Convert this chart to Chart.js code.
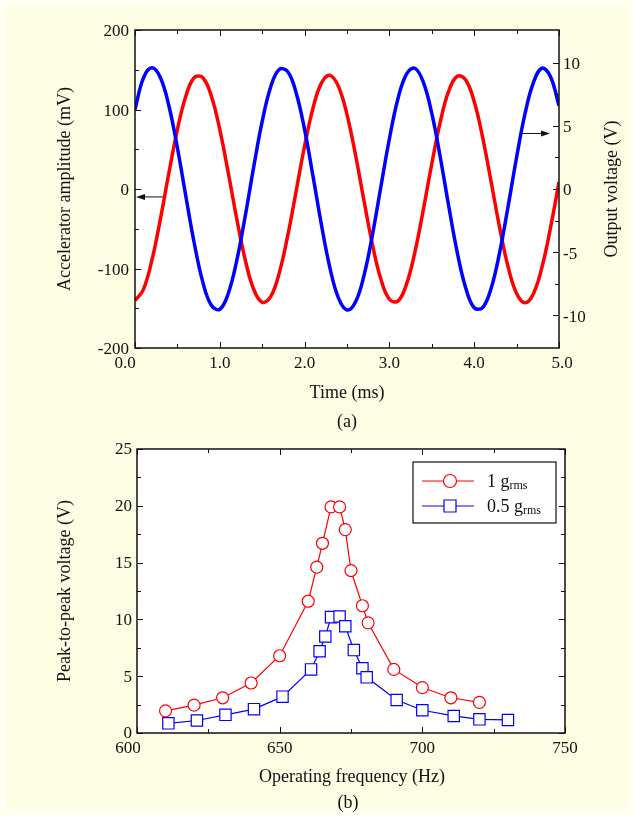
<!DOCTYPE html>
<html>
<head>
<meta charset="utf-8">
<script src="https://cdn.jsdelivr.net/npm/chart.js@4.4.1/dist/chart.umd.min.js"></script>
<style>
    html, body { margin: 0; padding: 0; background: #fffff2; }
    #page { position: relative; width: 633px; height: 816px; overflow: hidden; background: #fffff2; }
    #panel { position: absolute; left: 6px; top: 7px; width: 622px; height: 801px; background: #fdfde3; }
    canvas { position: absolute; left: 0; }
    #waveChart { top: 0; }
    #freqChart { top: 435px; }
</style>
</head>
<body>
<div id="page">
    <div id="panel"></div>
    <canvas id="waveChart" width="633" height="435"></canvas>
    <canvas id="freqChart" width="633" height="381"></canvas>
</div>
<script>
// (a) oscillogram, every 0.1 ms
const timeMs = [
    0.0, 0.1, 0.2, 0.3, 0.4, 0.5, 0.6, 0.7, 0.8, 0.9,
    1.0, 1.1, 1.2, 1.3, 1.4, 1.5, 1.6, 1.7, 1.8, 1.9,
    2.0, 2.1, 2.2, 2.3, 2.4, 2.5, 2.6, 2.7, 2.8, 2.9,
    3.0, 3.1, 3.2, 3.3, 3.4, 3.5, 3.6, 3.7, 3.8, 3.9,
    4.0, 4.1, 4.2, 4.3, 4.4, 4.5, 4.6, 4.7, 4.8, 4.9,
    5.0,
];
const accelMv = [
    -140.5, -126.2, -89.2, -37.5, 20.4, 74.7, 117.0, 140.2, 140.0, 117.0,
    74.7, 20.3, -37.5, -89.2, -126.2, -142.5, -135.4, -106.1, -59.4, -2.9,
    54.1, 102.1, 133.5, 142.9, 128.8, 93.6, 43.1, -14.6, -70.0, -113.6,
    -138.7, -141.1, -120.3, -79.8, -26.1, 31.8, 84.4, 123.3, 141.9, 137.2,
    110.0, 64.7, 8.8, -48.6, -98.0, -131.3, -143.0, -131.3, -98.0, -48.7,
    8.8,
];
const outputV = [
    6.3, 8.81, 9.6, 8.81, 6.58, 3.27, -0.59, -4.34, -7.38, -9.21,
    -9.53, -8.28, -5.67, -2.14, 1.75, 5.35, 8.08, 9.47, 9.31, 7.63,
    4.70, 0.98, -2.89, -6.29, -8.65, -9.59, -8.96, -6.86, -3.63, 0.20,
    3.98, 7.13, 9.09, 9.57, 8.47, 5.99, 2.52, -1.37, -5.02, -7.85,
    -9.41, -9.40, -7.86, -5.02, -1.37, 2.52, 5.99, 8.47, 9.57, 8.9,
    6.6,
];
const timeTicks = [0, 1, 2, 3, 4, 5];
const accelTicks = [-200, -100, 0, 100, 200];
const voltTicks = [-10, -5, 0, 5, 10];

// (b) frequency response
const freqOneG = [610, 620, 630, 640, 650, 660, 663, 665, 668, 671, 673, 675, 679, 681, 690, 700, 710, 720];
const ppOneG = [1.95, 2.45, 3.1, 4.4, 6.8, 11.6, 14.6, 16.7, 19.9, 19.9, 17.9, 14.3, 11.2, 9.7, 5.6, 4.0, 3.1, 2.7];
const freqHalfG = [611, 621, 631, 641, 651, 661, 664, 666, 668, 671, 673, 676, 679, 680.5, 691, 700, 711, 720, 730];
const ppHalfG = [0.85, 1.1, 1.6, 2.1, 3.2, 5.6, 7.2, 8.5, 10.2, 10.25, 9.4, 7.3, 5.7, 4.9, 2.9, 2.0, 1.5, 1.2, 1.15];
const freqTicks = [600, 650, 700, 750];
const ppTicks = [0, 5, 10, 15, 20, 25];

const SERIF = '"Liberation Serif", "Times New Roman", Times, serif';
const INK = "#111";

function minorValues(majors) {
    const out = [];
    for (let i = 0; i < majors.length - 1; i++) out.push((majors[i] + majors[i + 1]) / 2);
    return out;
}

function points(xs, ys) {
    return xs.map((x, i) => ({ x, y: ys[i] }));
}

// inward tick marks along one side of the plot box
function tickMarks(ctx, area, scale, values, side, len) {
    ctx.beginPath();
    for (const v of values) {
        const p = Math.round(scale.getPixelForValue(v)) + 0.5;
        if (side === "left") { ctx.moveTo(area.left, p); ctx.lineTo(area.left + len, p); }
        else if (side === "right") { ctx.moveTo(area.right, p); ctx.lineTo(area.right - len, p); }
        else if (side === "top") { ctx.moveTo(p, area.top); ctx.lineTo(p, area.top + len); }
        else { ctx.moveTo(p, area.bottom); ctx.lineTo(p, area.bottom - len); }
    }
    ctx.stroke();
}

function boxTicks(ctx, area, scale, majors, sides) {
    for (const side of sides) {
        tickMarks(ctx, area, scale, majors, side, 6);
        tickMarks(ctx, area, scale, minorValues(majors), side, 4);
    }
}

function verticalText(ctx, text, x, y) {
    ctx.save();
    ctx.translate(x, y);
    ctx.rotate(-Math.PI / 2);
    ctx.textAlign = "center";
    ctx.textBaseline = "middle";
    ctx.fillText(text, 0, 0);
    ctx.restore();
}

function arrow(ctx, x1, y, x2) {
    const dir = Math.sign(x2 - x1);
    ctx.beginPath();
    ctx.moveTo(x1, y);
    ctx.lineTo(x2 - dir * 7, y);
    ctx.stroke();
    ctx.beginPath();
    ctx.moveTo(x2, y);
    ctx.lineTo(x2 - dir * 9, y - 3);
    ctx.lineTo(x2 - dir * 9, y + 3);
    ctx.closePath();
    ctx.fill();
}

const plotBackground = {
    id: "plotBackground",
    beforeDraw(chart) {
        const { ctx, chartArea: a } = chart;
        ctx.save();
        ctx.fillStyle = "#ffffff";
        ctx.fillRect(a.left, a.top, a.width, a.height);
        ctx.restore();
    },
};

const waveAxes = {
    id: "waveAxes",
    afterDraw(chart) {
        const { ctx, chartArea: a, scales } = chart;
        const x = scales.x, yL = scales.yMv, yR = scales.yV;
        ctx.save();
        ctx.strokeStyle = INK;
        ctx.fillStyle = INK;
        ctx.lineWidth = 1;
        boxTicks(ctx, a, x, timeTicks, ["top", "bottom"]);
        boxTicks(ctx, a, yL, accelTicks, ["left"]);
        boxTicks(ctx, a, yR, voltTicks, ["right"]);
        ctx.lineWidth = 1.5;
        ctx.strokeRect(a.left, a.top, a.width, a.height);

        ctx.font = `17px ${SERIF}`;
        ctx.textBaseline = "middle";
        ctx.textAlign = "right";
        accelTicks.forEach((v) => ctx.fillText(String(v), a.left - 6, yL.getPixelForValue(v) + 2));
        ctx.textAlign = "left";
        voltTicks.forEach((v) => ctx.fillText(String(v), a.right + 4, yR.getPixelForValue(v) + 2));
        ctx.textAlign = "center";
        timeTicks.forEach((v, i) => {
            let shift = 0;
            if (i === 0) shift = -10;
            if (i === timeTicks.length - 1) shift = 3;
            ctx.fillText(v.toFixed(1), x.getPixelForValue(v) + shift, a.bottom + 16);
        });

        ctx.font = `18px ${SERIF}`;
        ctx.fillText("Time (ms)", (a.left + a.right) / 2, a.bottom + 45);
        ctx.fillText("(a)", (a.left + a.right) / 2, a.bottom + 74);
        verticalText(ctx, "Accelerator amplitude (mV)", a.left - 70, (a.top + a.bottom) / 2);
        verticalText(ctx, "Output voltage (V)", a.right + 53, (a.top + a.bottom) / 2);

        // arrows tying each trace to its axis
        ctx.lineWidth = 1;
        arrow(ctx, x.getPixelForValue(0.33), yL.getPixelForValue(-10), a.left + 1);
        arrow(ctx, x.getPixelForValue(4.54), yR.getPixelForValue(4.4), a.right - 9);
        ctx.restore();
    },
};

const freqAxes = {
    id: "freqAxes",
    afterDraw(chart) {
        const { ctx, chartArea: a, scales } = chart;
        const x = scales.x, y = scales.y;
        ctx.save();
        ctx.strokeStyle = INK;
        ctx.fillStyle = INK;
        ctx.lineWidth = 1;
        boxTicks(ctx, a, x, freqTicks, ["top", "bottom"]);
        boxTicks(ctx, a, y, ppTicks, ["left", "right"]);
        ctx.lineWidth = 1.5;
        ctx.strokeRect(a.left, a.top, a.width, a.height);

        ctx.font = `17px ${SERIF}`;
        ctx.textBaseline = "middle";
        ctx.textAlign = "right";
        ppTicks.forEach((v) => ctx.fillText(String(v), a.left - 5, y.getPixelForValue(v) + 1));
        ctx.textAlign = "center";
        freqTicks.forEach((v, i) => {
            const shift = i === 0 ? -9 : 0;
            ctx.fillText(String(v), x.getPixelForValue(v) + shift, a.bottom + 16);
        });

        ctx.font = `18px ${SERIF}`;
        ctx.fillText("Operating frequency (Hz)", (a.left + a.right) / 2 + 1, a.bottom + 44);
        ctx.fillText("(b)", (a.left + a.right) / 2 - 3, a.bottom + 70);
        verticalText(ctx, "Peak-to-peak voltage (V)", a.left - 72, (a.top + a.bottom) / 2);

        // legend with subscripted units
        const box = { left: a.right - 152, top: a.top + 13, width: 143, height: 61 };
        ctx.fillStyle = "#ffffff";
        ctx.fillRect(box.left, box.top, box.width, box.height);
        ctx.lineWidth = 1.2;
        ctx.strokeStyle = INK;
        ctx.strokeRect(box.left, box.top, box.width, box.height);
        const rows = [
            { main: "1 g", color: "#ff0000", shape: "circle", y: box.top + 19 },
            { main: "0.5 g", color: "#0000ff", shape: "square", y: box.top + 44 },
        ];
        for (const row of rows) {
            ctx.strokeStyle = row.color;
            ctx.lineWidth = 1.2;
            ctx.beginPath();
            ctx.moveTo(box.left + 9, row.y);
            ctx.lineTo(box.left + 61, row.y);
            ctx.stroke();
            const mx = box.left + 37;
            ctx.fillStyle = "#ffffff";
            ctx.beginPath();
            if (row.shape === "circle") ctx.arc(mx, row.y, 6.5, 0, Math.PI * 2);
            else ctx.rect(mx - 6, row.y - 6, 12, 12);
            ctx.fill();
            ctx.stroke();

            ctx.fillStyle = INK;
            ctx.textAlign = "left";
            ctx.textBaseline = "alphabetic";
            ctx.font = `18px ${SERIF}`;
            const tx = box.left + 74;
            ctx.fillText(row.main, tx, row.y + 5.5);
            const w = ctx.measureText(row.main).width;
            ctx.font = `12px ${SERIF}`;
            ctx.fillText("rms", tx + w, row.y + 8);
        }
        ctx.restore();
    },
};

const quiet = { legend: { display: false }, tooltip: { enabled: false } };

new Chart(document.getElementById("waveChart"), {
    type: "line",
    data: {
        datasets: [
            {
                label: "Output voltage (V)",
                data: points(timeMs, outputV),
                yAxisID: "yV",
                borderColor: "#0000ff",
                borderWidth: 3.5,
                pointRadius: 0,
                tension: 0.4,
            },
            {
                label: "Accelerator amplitude (mV)",
                data: points(timeMs, accelMv),
                yAxisID: "yMv",
                borderColor: "#ff0000",
                borderWidth: 3.5,
                pointRadius: 0,
                tension: 0.4,
            },
        ],
    },
    options: {
        responsive: false,
        animation: false,
        devicePixelRatio: 1,
        layout: { padding: { left: 135, right: 74, top: 30, bottom: 87 } },
        plugins: quiet,
        scales: {
            x: { type: "linear", min: 0, max: 5, display: false },
            yMv: { type: "linear", position: "left", min: -200, max: 200, display: false },
            yV: { type: "linear", position: "right", min: -12.6, max: 12.6, display: false },
        },
    },
    plugins: [plotBackground, waveAxes],
});

new Chart(document.getElementById("freqChart"), {
    type: "line",
    data: {
        datasets: [
            {
                label: "1 grms",
                data: points(freqOneG, ppOneG),
                borderColor: "#ff0000",
                borderWidth: 1.2,
                pointStyle: "circle",
                pointRadius: 6,
                pointBorderWidth: 1.2,
                pointBorderColor: "#ff0000",
                pointBackgroundColor: "#ffffff",
            },
            {
                label: "0.5 grms",
                data: points(freqHalfG, ppHalfG),
                borderColor: "#0000ff",
                borderWidth: 1.2,
                pointStyle: "rect",
                pointRadius: 8,
                pointBorderWidth: 1.2,
                pointBorderColor: "#0000ff",
                pointBackgroundColor: "#ffffff",
            },
        ],
    },
    options: {
        responsive: false,
        animation: false,
        devicePixelRatio: 1,
        layout: { padding: { left: 137, right: 68, top: 14, bottom: 83 } },
        plugins: quiet,
        scales: {
            x: { type: "linear", min: 600, max: 750, display: false },
            y: { type: "linear", min: 0, max: 25, display: false },
        },
    },
    plugins: [plotBackground, freqAxes],
});
</script>
</body>
</html>
